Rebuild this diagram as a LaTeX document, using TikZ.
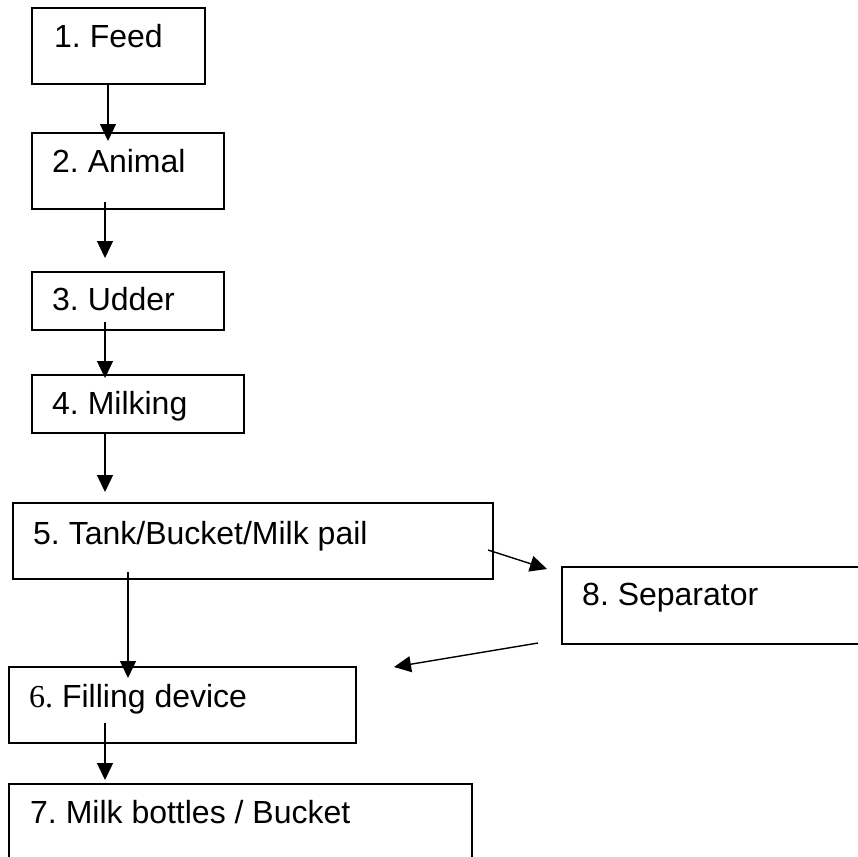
\documentclass[tikz,border=0pt]{standalone}
\usepackage{fontspec}
\setmainfont{Liberation Sans}
\newfontfamily\numserif{Liberation Serif}
\usetikzlibrary{arrows.meta}
\frenchspacing

\tikzset{
  box/.style={draw, rectangle, line width=1.8pt, inner sep=0pt, anchor=north west},
  lbl/.style={anchor=base west, inner sep=0pt, font=\fontsize{32}{38}\selectfont},
  flow/.style={line width=1.4pt, -{Triangle[length=17pt,width=16pt]}}
}

\begin{document}
\begin{tikzpicture}[x=1pt,y=-1pt]
  \useasboundingbox (0,0) rectangle (858,856);
  \clip (0,0) rectangle (858,856);

  % Draw the boxes
  \node[box, minimum width=173pt, minimum height=76pt] (feed) at (31,7) {};
  \node[box, minimum width=192pt, minimum height=76pt] (animal) at (31,132) {};
  \node[box, minimum width=192pt, minimum height=58pt] (udder) at (31,271) {};
  \node[box, minimum width=212pt, minimum height=58pt] (milking) at (31,374) {};
  \node[box, minimum width=480pt, minimum height=76pt] (tank) at (12,502) {};
  \node[box, minimum width=320pt, minimum height=77pt] (separator) at (561,566) {};
  \node[box, minimum width=347pt, minimum height=76pt] (filling) at (8,666) {};
  \node[box, minimum width=463pt, minimum height=100pt] (bottles) at (8,783) {};

  % Labels inside the boxes
  \node[lbl] (feedtxt) at (54,48) {1. Feed};
  \node[lbl] (animaltxt) at (52,172) {2. Animal};
  \node[lbl] (uddertxt) at (52,310) {3. Udder};
  \node[lbl] (milkingtxt) at (52,414) {4. Milking};
  \node[lbl] (tanktxt) at (33,544) {5. Tank/Bucket/Milk pail};
  \node[lbl] (separatortxt) at (582,605) {8. Separator};
  \node[lbl] (fillingtxt) at (29,707) {{\numserif 6.} Filling device};
  \node[lbl] (bottlestxt) at (30,823) {7. Milk bottles / Bucket};

  % Arrow ends
  \coordinate (s1) at (108,83);  \coordinate (e1) at (108,141);
  \coordinate (s2) at (105,202); \coordinate (e2) at (105,258);
  \coordinate (s3) at (105,322); \coordinate (e3) at (105,378);
  \coordinate (s4) at (105,434); \coordinate (e4) at (105,492);
  \coordinate (s5) at (128,572); \coordinate (e5) at (128,678);
  \coordinate (s6) at (105,723); \coordinate (e6) at (105,780);
  \coordinate (s7) at (488,550); \coordinate (e7) at (547,569);
  \coordinate (s8) at (538,643); \coordinate (e8) at (394,667);

  % Draw the arrows
  \foreach \i in {1,...,8}
    \draw[flow] (s\i) -- (e\i);
\end{tikzpicture}
\end{document}
